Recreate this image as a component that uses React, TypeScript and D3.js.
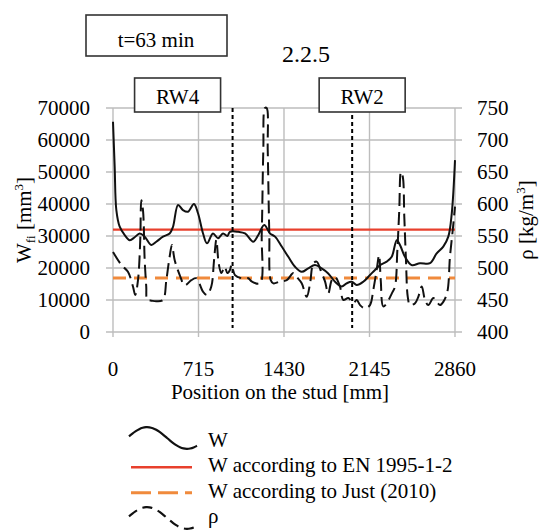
import React from "react";
import * as d3 from "d3";

// W (mm3) along the stud
const wPos = [0, 14, 28, 56, 98, 140, 181, 223, 265, 320, 362, 418, 474, 502, 544, 585, 627, 677, 711, 753, 786, 836, 878, 920, 956, 978, 1048, 1104, 1173, 1215, 1265, 1313, 1355, 1411, 1466, 1522, 1578, 1633, 1689, 1745, 1800, 1857, 1913, 1954, 1996, 2038, 2093, 2149, 2191, 2233, 2289, 2331, 2373, 2400, 2442, 2498, 2567, 2651, 2707, 2762, 2804, 2833, 2860];
const wVal = [65700, 51600, 38100, 32900, 30300, 28700, 29600, 30800, 29800, 27200, 28200, 29800, 30800, 32900, 39700, 38100, 37600, 40000, 37100, 30800, 27700, 30800, 29300, 30800, 30000, 31300, 31300, 30800, 28200, 30300, 33400, 30800, 29800, 26700, 23500, 20400, 18800, 19900, 20900, 19900, 18300, 15700, 14200, 15200, 15700, 14700, 15700, 17800, 19400, 20900, 22000, 23500, 28700, 27200, 23500, 20900, 21500, 21500, 24600, 26700, 29800, 37100, 53700];

// density rho (kg/m3)
const rhoPos = [0, 69, 125, 167, 186, 209, 228, 237, 251, 265, 278, 287, 320, 362, 418, 446, 474, 493, 516, 558, 600, 655, 697, 753, 786, 822, 845, 864, 884, 906, 934, 956, 978, 992, 1020, 1076, 1132, 1160, 1229, 1244, 1257, 1271, 1285, 1294, 1307, 1319, 1341, 1397, 1453, 1508, 1536, 1578, 1620, 1648, 1675, 1703, 1745, 1773, 1800, 1829, 1857, 1898, 1926, 1968, 2010, 2038, 2066, 2107, 2149, 2177, 2205, 2225, 2239, 2260, 2289, 2331, 2358, 2378, 2394, 2408, 2423, 2436, 2450, 2465, 2484, 2526, 2553, 2582, 2609, 2637, 2679, 2707, 2735, 2762, 2796, 2818, 2841, 2860];
const rhoVal = [525, 505, 494, 471, 458, 481, 544, 606, 590, 512, 471, 450, 449, 448, 450, 481, 518, 536, 512, 489, 473, 481, 484, 463, 458, 471, 512, 544, 507, 492, 502, 492, 497, 505, 489, 484, 484, 479, 476, 554, 684, 750, 750, 684, 554, 481, 476, 479, 481, 492, 486, 476, 455, 476, 507, 510, 492, 479, 460, 481, 486, 471, 450, 453, 445, 450, 442, 437, 442, 466, 497, 520, 481, 440, 445, 460, 471, 528, 591, 650, 643, 580, 512, 455, 442, 445, 455, 471, 450, 442, 453, 447, 442, 447, 463, 518, 559, 596];

const wEN = 32000; // EN 1995-1-2
const wJust = 16900; // Just (2010)
const sections = [1000, 2000]; // RW4 / RW2 borders
const sectionLabels = ["RW4", "RW2"];

const xTicks = [0, 715, 1430, 2145, 2860];
const yLTicks = [0, 10000, 20000, 30000, 40000, 50000, 60000, 70000];
const yRTicks = [400, 450, 500, 550, 600, 650, 700, 750];

const legendItems = ["W", "W according to EN 1995-1-2", "W according to Just (2010)", "ρ"];

const font = "Liberation Serif, Times New Roman, serif";
const grid = "#bdbdbd";

export default function App() {
  const x = d3.scaleLinear().domain([0, 2860]).range([113, 455]);
  const yL = d3.scaleLinear().domain([0, 70000]).range([332, 108]);
  const yR = d3.scaleLinear().domain([400, 750]).range([332, 108]);

  const wLine = d3
    .line<number>()
    .x((d, i) => x(wPos[i]))
    .y((d) => yL(d))
    .curve(d3.curveCatmullRom.alpha(0.5));
  const rhoLine = d3
    .line<number>()
    .x((d, i) => x(rhoPos[i]))
    .y((d) => yR(d))
    .curve(d3.curveCatmullRom.alpha(0.5));

  // little wave for the legend symbols
  const wave = d3.range(0, 1.001, 0.05);
  const waveX = d3.scaleLinear().domain([0, 1]).range([129, 197]);
  const waveLine = (y0: number) =>
    d3
      .line<number>()
      .x((t) => waveX(t))
      .y((t) => y0 - 11 * Math.sin(t * 1.7 * Math.PI + 0.15))
      .curve(d3.curveBasis)(wave);

  const legendY = d3.scaleLinear().domain([0, 3]).range([447, 523]);

  return (
    <svg width={544} height={532} style={{ position: "absolute", left: 0, top: 0, background: "#fff", fontFamily: font }}>
      {/* grid */}
      {yLTicks.map((t) => (
        <line key={"h" + t} x1={106} x2={462} y1={yL(t)} y2={yL(t)} stroke={grid} strokeWidth={1.4} />
      ))}
      {xTicks.map((t) => (
        <line key={"v" + t} x1={x(t)} x2={x(t)} y1={108} y2={337} stroke={grid} strokeWidth={1.4} />
      ))}

      {/* reference lines */}
      <line x1={x(0)} x2={x(2860)} y1={yL(wEN)} y2={yL(wEN)} stroke="#e8402d" strokeWidth={2.2} />
      <line x1={x(0)} x2={x(2860)} y1={yL(wJust)} y2={yL(wJust)} stroke="#f08a3c" strokeWidth={3} strokeDasharray="13,8" />

      {/* section borders */}
      {sections.map((s) => (
        <line key={s} x1={x(s)} x2={x(s)} y1={108} y2={328} stroke="#000" strokeWidth={2} strokeDasharray="4,3" />
      ))}

      <path d={rhoLine(rhoVal) || ""} fill="none" stroke="#111" strokeWidth={2} strokeDasharray="13,6" />
      <path d={wLine(wVal) || ""} fill="none" stroke="#111" strokeWidth={2} />

      {/* boxes */}
      <rect x={86} y={15} width={141} height={41} fill="#fff" stroke="#333" strokeWidth={1.6} />
      <text x={156} y={47} textAnchor="middle" fontSize={21}>t=63 min</text>
      {sectionLabels.map((l, i) => {
        const cx = i === 0 ? x(sections[0]) - 55 : x(sections[1]) + 10;
        return (
          <g key={l}>
            <rect x={cx - 43} y={78} width={86} height={34} fill="#fff" stroke="#333" strokeWidth={1.6} />
            <text x={cx} y={104} textAnchor="middle" fontSize={21}>{l}</text>
          </g>
        );
      })}
      <text x={306} y={62} textAnchor="middle" fontSize={24}>2.2.5</text>

      {/* tick labels */}
      {yLTicks.map((t) => (
        <text key={"l" + t} x={90} y={yL(t)} dy="0.34em" textAnchor="end" fontSize={21}>{t}</text>
      ))}
      {yRTicks.map((t) => (
        <text key={"r" + t} x={477} y={yR(t)} dy="0.34em" fontSize={21}>{t}</text>
      ))}
      {xTicks.map((t) => (
        <text key={"x" + t} x={x(t)} y={376} textAnchor="middle" fontSize={21}>{t}</text>
      ))}

      {/* axis titles */}
      <text x={280} y={399} textAnchor="middle" fontSize={21}>Position on the stud [mm]</text>
      <text transform="translate(31,220) rotate(-90)" textAnchor="middle" fontSize={21}>
        W<tspan fontSize={13} dy={4}>fi</tspan>
        <tspan dy={-4}> [mm</tspan>
        <tspan fontSize={13} dy={-8}>3</tspan>
        <tspan dy={8}>]</tspan>
      </text>
      <text transform="translate(533,220) rotate(-90)" textAnchor="middle" fontSize={21}>
        ρ [kg/m<tspan fontSize={13} dy={-8}>3</tspan>
        <tspan dy={8}>]</tspan>
      </text>

      {/* legend */}
      <path d={waveLine(legendY(0) - 9) || ""} fill="none" stroke="#111" strokeWidth={2.2} />
      <line x1={131} x2={192} y1={legendY(1) - 5} y2={legendY(1) - 5} stroke="#e8402d" strokeWidth={2.5} />
      <line x1={131} x2={192} y1={legendY(2) - 5} y2={legendY(2) - 5} stroke="#f08a3c" strokeWidth={3} strokeDasharray="20,7" />
      <path d={waveLine(legendY(3) - 5) || ""} fill="none" stroke="#111" strokeWidth={2.2} strokeDasharray="10,6" />
      {legendItems.map((l, i) => (
        <text key={l} x={208} y={legendY(i)} fontSize={21}>{l}</text>
      ))}
    </svg>
  );
}
